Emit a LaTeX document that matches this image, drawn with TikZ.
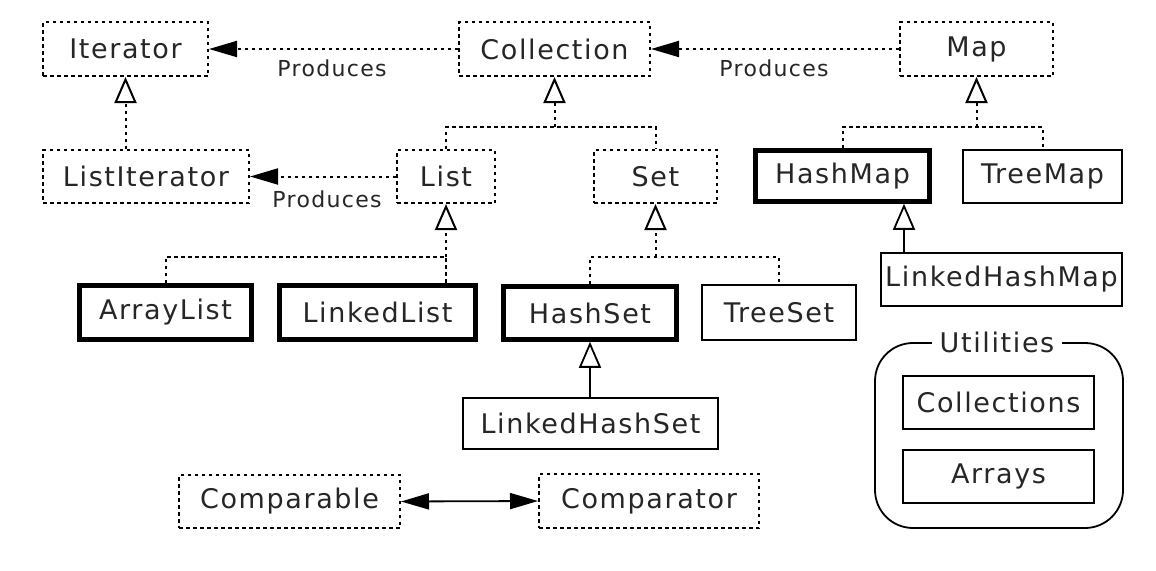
\documentclass[tikz,border=0pt]{standalone}
\usepackage{fontspec}
\setmainfont{DejaVu Sans}[LetterSpace=6]
\usetikzlibrary{arrows.meta}
\tikzset{
  base/.style={font=\fontsize{27}{32}\selectfont, inner sep=0pt, text=black!85},
  dbox/.style={base, draw, dash pattern=on 3.5pt off 3.5pt, line width=2pt},
  sbox/.style={base, draw, line width=1.8pt},
  tbox/.style={base, draw, line width=4.5pt},
  dline/.style={line width=2pt, dash pattern=on 3.5pt off 3.5pt},
  sline/.style={line width=1.8pt},
  produces/.style={-{Triangle[length=28pt,width=16pt]}},
  inherit/.style={-{Triangle[length=26pt,width=22pt,fill=white]}},
  lbl/.style={font=\fontsize{22}{26}\selectfont, inner sep=0pt, text=black!85}
}
\begin{document}
\begin{tikzpicture}[x=1pt,y=-1pt]
\useasboundingbox (0,0) rectangle (1156,570);
% nodes
\node[dbox, minimum width=165pt, minimum height=54pt] (Iterator) at (125.5,49) {Iterator};
\node[dbox, minimum width=191pt, minimum height=54pt] (Collection) at (554.5,49) {Collection};
\node[dbox, minimum width=153pt, minimum height=54pt] (Map) at (976.5,49) {Map};
\node[dbox, minimum width=206pt, minimum height=53pt] (ListIterator) at (146,176.5) {ListIterator};
\node[dbox, minimum width=98pt, minimum height=53pt] (List) at (446,176.5) {List};
\node[dbox, minimum width=123pt, minimum height=53pt] (Set) at (655.5,176.5) {Set};
\node[tbox, minimum width=174pt, minimum height=51pt] (HashMap) at (842.5,176) {HashMap};
\node[sbox, minimum width=159pt, minimum height=53pt] (TreeMap) at (1042.5,176.5) {TreeMap};
\node[sbox, minimum width=241pt, minimum height=53pt] (LinkedHashMap) at (1001.5,279.5) {LinkedHashMap};
\node[tbox, minimum width=172pt, minimum height=54pt] (ArrayList) at (165.5,312.5) {ArrayList};
\node[tbox, minimum width=196pt, minimum height=54pt] (LinkedList) at (377.5,312.5) {LinkedList};
\node[tbox, minimum width=173pt, minimum height=53pt] (HashSet) at (590,313) {HashSet};
\node[sbox, minimum width=154pt, minimum height=55pt] (TreeSet) at (779,312.5) {TreeSet};
\node[sbox, minimum width=255pt, minimum height=51pt] (LinkedHashSet) at (590.5,423.5) {LinkedHashSet};
\node[dbox, minimum width=221pt, minimum height=53pt] (Comparable) at (289.5,501.5) {Comparable};
\node[dbox, minimum width=220pt, minimum height=54pt] (Comparator) at (649,501) {Comparator};
\node[draw, line width=1.8pt, rounded corners=38pt, minimum width=248pt, minimum height=185pt, inner sep=0pt] (Utilbox) at (999,435.5) {};
\node[base, fill=white, inner xsep=8pt, inner ysep=2pt] (UtilLabel) at ([xshift=-2pt]Utilbox.north) {Utilities};
\node[sbox, minimum width=191pt, minimum height=53pt] (Collections) at (998.5,402.5) {Collections};
\node[sbox, minimum width=191pt, minimum height=53pt] (Arrays) at (998.5,476.5) {Arrays};
% produces
\draw[dline, produces] (Collection.west) -- (Iterator.east);
\draw[dline, produces] (Map.west) -- (Collection.east);
\draw[dline, produces] (List.west) -- (ListIterator.east);
\node[lbl] (p1) at (332,68) {Produces};
\node[lbl] (p2) at (774,68) {Produces};
\node[lbl] (p3) at (327,199) {Produces};
% inheritance
\draw[dline, inherit] (ListIterator.north -| Iterator.south) -- (Iterator.south);
\coordinate (cj) at (554.5,127);
\draw[dline] (List.north) |- (cj) -| (Set.north);
\draw[dline, inherit] (cj) -- (Collection.south);
\coordinate (mj) at (976.5,127);
\draw[dline] (HashMap.north) |- (mj) -| (TreeMap.north);
\draw[dline, inherit] (mj) -- (Map.south);
\coordinate (lj) at (446,257);
\draw[dline] (ArrayList.north) |- (lj) -- (LinkedList.north -| lj);
\draw[dline, inherit] (lj) -- (List.south);
\coordinate (sj) at (655.5,257);
\draw[dline] (HashSet.north) |- (sj) -| (TreeSet.north);
\draw[dline, inherit] (sj) -- (Set.south);
\draw[sline, inherit] (LinkedHashSet.north -| HashSet.south) -- (HashSet.south);
\coordinate (hm) at (904,230);
\draw[sline, inherit] (LinkedHashMap.north -| hm) -- (HashMap.south -| hm);
\draw[sline, {Triangle[length=28pt,width=16pt]}-{Triangle[length=28pt,width=16pt]}] (Comparable.east) -- (Comparator.west);
\end{tikzpicture}
\end{document}
